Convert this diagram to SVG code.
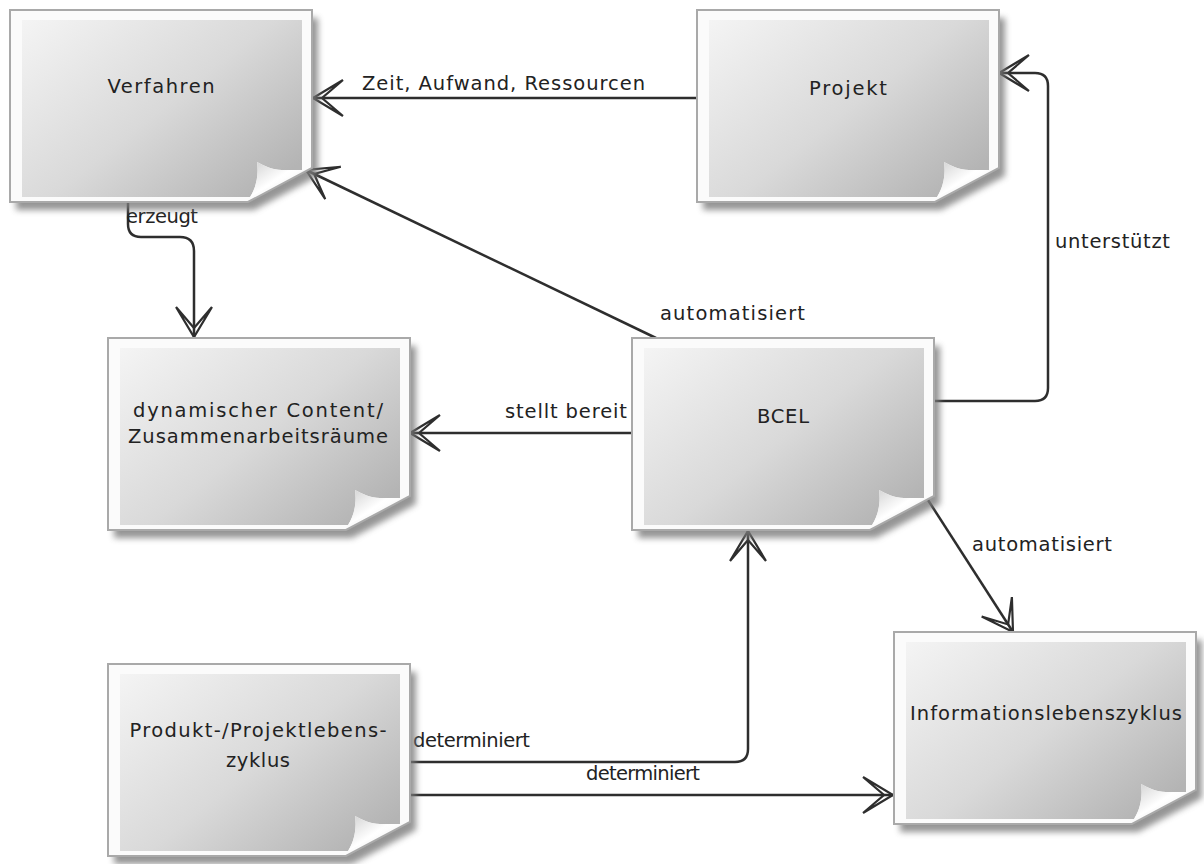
<svg xmlns="http://www.w3.org/2000/svg" xmlns:xlink="http://www.w3.org/1999/xlink" width="1204" height="864" viewBox="0 0 1204 864">
<style>
  text { font-family: "DejaVu Sans", "Liberation Sans", sans-serif; font-size: 19.5px; fill: #222; }
  .nt { text-anchor: middle; }
  .conn { fill: none; stroke: #2e2e2e; stroke-width: 2.5; }
  .ar { fill: none; stroke: #2e2e2e; stroke-width: 2.2; stroke-linejoin: miter; }
</style>
<defs>
  <linearGradient id="g" x1="0" y1="0" x2="1" y2="0.8">
    <stop offset="0" stop-color="#f4f4f4"/>
    <stop offset="0.55" stop-color="#d9d9d9"/>
    <stop offset="1" stop-color="#b4b4b4"/>
  </linearGradient>
  <linearGradient id="gf" x1="0" y1="0" x2="1" y2="1">
    <stop offset="0" stop-color="#d0d0d0"/>
    <stop offset="0.5" stop-color="#ffffff"/>
    <stop offset="1" stop-color="#f6f6f6"/>
  </linearGradient>
  <filter id="blur" x="-10%" y="-10%" width="120%" height="120%">
    <feGaussianBlur stdDeviation="3"/>
  </filter>
  <marker id="arr" viewBox="-34 -22 36 44" refX="0" refY="0" markerWidth="36" markerHeight="44" markerUnits="userSpaceOnUse" orient="auto" overflow="visible">
    <path class="ar" d="M-30,-18 L0,0 L-30,18 M-30,-18 L-9,0 L-30,18"/>
  </marker>
  <g id="page">
    <path d="M0,0 H302 V158 L238,192 H0 Z" transform="translate(6,8)" fill="#7a7a7a" opacity="0.8" filter="url(#blur)"/>
    <path d="M0,0 H302 V158 L238,192 H0 Z" fill="#fbfbfb" stroke="#a9a9a9" stroke-width="2"/>
    <path d="M12,10 H292 V160 H272 C262,160 255,156 247,152 C249,165 246,178 240,187 H12 Z" fill="url(#g)"/>
    <path d="M247,152 C255,156 262,160 272,160 H292 L240,187 C246,178 249,165 247,152 Z" fill="url(#gf)"/>
  </g>
</defs>

<g id="connectors">
  <path class="conn" d="M697,98 H313" marker-end="url(#arr)"/>
  <path class="conn" d="M656,338 L306,170" marker-end="url(#arr)"/>
  <path class="conn" d="M128,203 V224 Q128,237 141,237 H180 Q194,237 194,251 V337" marker-end="url(#arr)"/>
  <path class="conn" d="M632,433 H410" marker-end="url(#arr)"/>
  <path class="conn" d="M933,401 H1035 Q1048,401 1048,388 V86 Q1048,73 1035,73 H999" marker-end="url(#arr)"/>
  <path class="conn" d="M928,500 L1013,632" marker-end="url(#arr)"/>
  <path class="conn" d="M410,762 H735 Q748,762 748,749 V531" marker-end="url(#arr)"/>
  <path class="conn" d="M410,795 H893" marker-end="url(#arr)"/>
  <text x="362" y="90" textLength="283" lengthAdjust="spacing">Zeit, Aufwand, Ressourcen</text>
  <text x="126" y="223" textLength="72" lengthAdjust="spacing">erzeugt</text>
  <text x="660" y="320" textLength="145" lengthAdjust="spacing">automatisiert</text>
  <text x="1055" y="248" textLength="115" lengthAdjust="spacing">unterstützt</text>
  <text x="505" y="418" textLength="122" lengthAdjust="spacing">stellt bereit</text>
  <text x="972" y="551" textLength="140" lengthAdjust="spacing">automatisiert</text>
  <text x="413" y="747" textLength="117" lengthAdjust="spacing">determiniert</text>
  <text x="586" y="780" textLength="114" lengthAdjust="spacing">determiniert</text>
</g>

<g id="node-verfahren" transform="translate(10,10)">
  <use href="#page"/>
  <text class="nt" x="151" y="83" textLength="107" lengthAdjust="spacing">Verfahren</text>
</g>
<g id="node-projekt" transform="translate(697,10)">
  <use href="#page"/>
  <text class="nt" x="151" y="85" textLength="78" lengthAdjust="spacing">Projekt</text>
</g>
<g id="node-content" transform="translate(108,338)">
  <use href="#page"/>
  <text class="nt" x="150" y="79" textLength="250" lengthAdjust="spacing">dynamischer Content/</text>
  <text class="nt" x="150" y="105" textLength="260" lengthAdjust="spacing">Zusammenarbeitsräume</text>
</g>
<g id="node-bcel" transform="translate(632,338)">
  <use href="#page"/>
  <text class="nt" x="151" y="85" textLength="52" lengthAdjust="spacing">BCEL</text>
</g>
<g id="node-info" transform="translate(894,632)">
  <use href="#page"/>
  <text class="nt" x="152" y="88" textLength="272" lengthAdjust="spacing">Informationslebenszyklus</text>
</g>
<g id="node-produkt" transform="translate(108,664)">
  <use href="#page"/>
  <text class="nt" x="150" y="73" textLength="257" lengthAdjust="spacing">Produkt-/Projektlebens-</text>
  <text class="nt" x="150" y="103" textLength="64" lengthAdjust="spacing">zyklus</text>
</g>
</svg>
